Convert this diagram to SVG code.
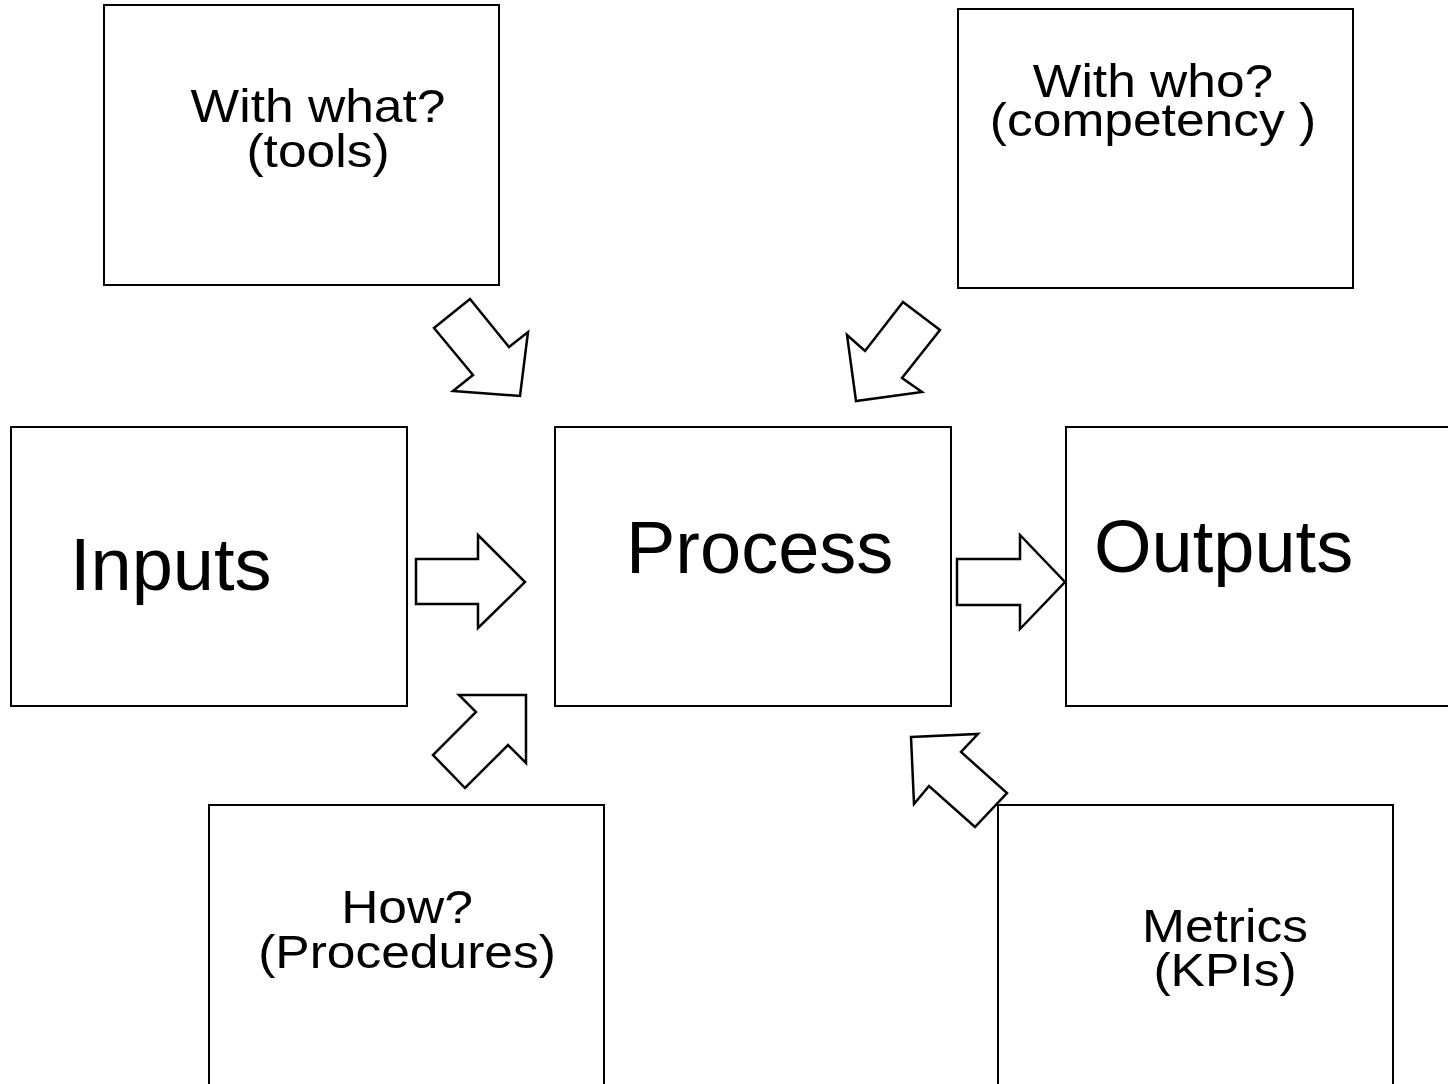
<svg xmlns="http://www.w3.org/2000/svg" width="1448" height="1084" viewBox="0 0 1448 1084">
  <style>
    .box { fill: #ffffff; stroke: #000000; stroke-width: 2; }
    .arrow { fill: #ffffff; stroke: #000000; stroke-width: 2.5; stroke-linejoin: miter; }
    .lbl { font-family: "Liberation Sans", Arial, sans-serif; fill: #000000; }
    .sm { font-size: 46px; text-anchor: middle; }
    .lg { font-size: 74px; }
  </style>
  <rect width="1448" height="1084" fill="#ffffff"/>

  <g id="tools">
    <rect class="box" x="104" y="5" width="395" height="280"/>
    <text class="lbl sm" transform="translate(318,122) scale(1.12,1)">With what?</text>
    <text class="lbl sm" transform="translate(318,167) scale(1.12,1)">(tools)</text>
  </g>

  <g id="competency">
    <rect class="box" x="958" y="9" width="395" height="279"/>
    <text class="lbl sm" transform="translate(1153,97) scale(1.12,1)">With who?</text>
    <text class="lbl sm" transform="translate(1153,136) scale(1.12,1)">(competency )</text>
  </g>

  <g id="inputs">
    <rect class="box" x="11" y="427" width="396" height="279"/>
    <text class="lbl lg" x="70" y="590">Inputs</text>
  </g>

  <g id="process">
    <rect class="box" x="555" y="427" width="396" height="279"/>
    <text class="lbl lg" x="626" y="573">Process</text>
  </g>

  <g id="outputs">
    <rect class="box" x="1066" y="427" width="400" height="279"/>
    <text class="lbl lg" x="1094" y="572">Outputs</text>
  </g>

  <g id="procedures">
    <rect class="box" x="209" y="805" width="395" height="290"/>
    <text class="lbl sm" transform="translate(407,923) scale(1.12,1)">How?</text>
    <text class="lbl sm" transform="translate(407,968) scale(1.12,1)">(Procedures)</text>
  </g>

  <g id="metrics">
    <rect class="box" x="998" y="805" width="395" height="290"/>
    <text class="lbl sm" transform="translate(1225,942) scale(1.12,1)">Metrics</text>
    <text class="lbl sm" transform="translate(1225,986) scale(1.12,1)">(KPIs)</text>
  </g>

  <g id="connectors">
    <!-- tools -> process -->
    <polygon class="arrow" points="470,299 509,347 528,332 520,396 453,391 473,375 434,328"/>
    <!-- competency -> process -->
    <polygon class="arrow" points="903,302 940,330 902,378 922,392 856,401 847,335 865,351"/>
    <!-- inputs -> process -->
    <polygon class="arrow" points="416,559 478,559 478,535 525,582 478,628 478,604 416,604"/>
    <!-- process -> outputs -->
    <polygon class="arrow" points="957,559 1020,559 1020,535 1065,582 1020,629 1020,605 957,605"/>
    <!-- procedures -> process -->
    <polygon class="arrow" points="459,695 526,695 526,763 508,745 465,788 433,755 476,712"/>
    <!-- metrics -> process -->
    <polygon class="arrow" points="911,737 978,734 961,752 1007,793 975,827 929,786 914,804"/>
  </g>
</svg>
